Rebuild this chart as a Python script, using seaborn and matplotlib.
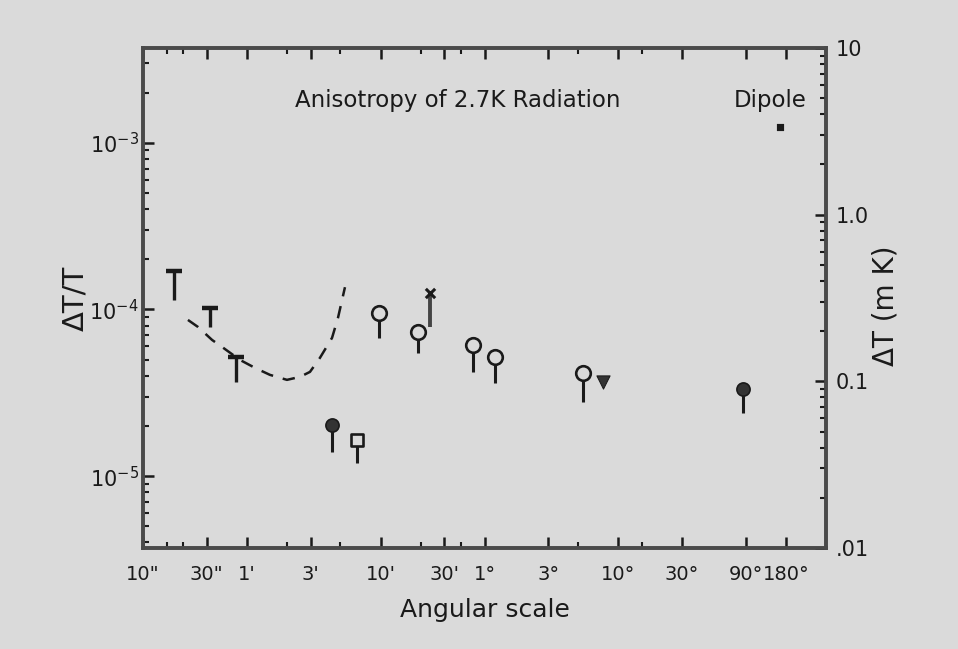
import numpy as np
import pandas as pd
import matplotlib
matplotlib.use("Agg")
import matplotlib.pyplot as plt
import seaborn as sns
from matplotlib.ticker import FixedLocator, NullFormatter

# ---------------- data (angular scale in arcsec, values in dT/T) ----------------
T_CMB_mK = 2700.0

tick_pos = [10, 30, 60, 180, 600, 1800, 3600, 10800, 36000, 108000, 324000, 648000]
tick_lab = ['10"', '30"', "1'", "3'", "10'", "30'", "1°", "3°", "10°", "30°", "90°", "180°"]
minor_pos = [15, 20, 120, 300, 1200, 2400, 18000, 54000]

# "T" upper-limit symbols
t_x = [17, 32, 50]
t_top = [1.70e-4, 1.02e-4, 5.2e-5]
t_low = [1.14e-4, 7.9e-5, 3.67e-5]

# open circles with stems
oc_x = [584, 1144, 2951, 4312, 19650]
oc_top = [9.5e-5, 7.3e-5, 6.1e-5, 5.2e-5, 4.16e-5]
oc_low = [6.75e-5, 5.5e-5, 4.2e-5, 3.6e-5, 2.8e-5]

# filled circles with stems
fc_x = [260, 309800]
fc_top = [2.03e-5, 3.33e-5]
fc_low = [1.40e-5, 2.39e-5]

# open square with stem
sq_x = [400]
sq_top = [1.65e-5]
sq_low = [1.20e-5]

# cross with stem
cx_x = [1406]
cx_top = [1.26e-4]
cx_low = [7.85e-5]

# filled triangle
tr_x = [27750]
tr_y = [3.67e-5]

# dipole
dp_x = [586000]
dp_y = [1.24e-3]

# dashed curve
cv_x = [21.7, 25.8, 32.9, 39.0, 53.2, 68.9, 89.2, 119.6, 149.7, 177.8, 211, 260, 288, 325]
cv_y = [8.65e-5, 7.85e-5, 6.56e-5, 5.96e-5, 4.98e-5, 4.46e-5, 4.05e-5, 3.78e-5,
        3.94e-5, 4.22e-5, 5.12e-5, 6.75e-5, 8.89e-5, 1.36e-4]

# ---------------- styling ----------------
sns.set_theme(style="ticks")
plt.rcParams["font.family"] = ["DejaVu Sans"]
BG = "#dadada"
INK = "#1a1a1a"

fig = plt.figure(figsize=(9.58, 6.49), dpi=100)
fig.patch.set_facecolor(BG)
ax = fig.add_axes([143/958, 1-548/649, (826-143)/958, 500/649])
ax.set_facecolor(BG)

ax.set_xscale("log")
ax.set_yscale("log")
ax.set_xlim(10, 1296000)
ax.set_ylim(0.01/T_CMB_mK, 10/T_CMB_mK)

# curve
sns.lineplot(x=cv_x, y=cv_y, ax=ax, color=INK, lw=1.8, linestyle=(0, (5, 4)),
             estimator=None, sort=False)

# stems
ax.vlines(t_x, t_low, t_top, color=INK, lw=2.4, zorder=2)
ax.vlines(oc_x, oc_low, oc_top, color=INK, lw=2.2, zorder=2)
ax.vlines(fc_x, fc_low, fc_top, color=INK, lw=2.2, zorder=2)
ax.vlines(sq_x, sq_low, sq_top, color=INK, lw=2.2, zorder=2)
ax.vlines(cx_x, cx_low, cx_top, color="#444444", lw=2.8, zorder=2)

# markers
sns.scatterplot(x=t_x, y=t_top, ax=ax, marker="_", s=120, color=INK, linewidth=3.2, zorder=3)
sns.scatterplot(x=oc_x, y=oc_top, ax=ax, marker="o", s=110, facecolor=BG,
                edgecolor=INK, linewidth=1.9, zorder=3)
sns.scatterplot(x=fc_x, y=fc_top, ax=ax, marker="o", s=90, color="#333333",
                edgecolor=INK, linewidth=1.2, zorder=3)
sns.scatterplot(x=sq_x, y=sq_top, ax=ax, marker="s", s=80, facecolor=BG,
                edgecolor=INK, linewidth=1.9, zorder=3)
sns.scatterplot(x=cx_x, y=cx_top, ax=ax, marker="x", s=45, color=INK, linewidth=2.2, zorder=3)
sns.scatterplot(x=tr_x, y=tr_y, ax=ax, marker="v", s=90, color="#333333",
                edgecolor=INK, zorder=3)
sns.scatterplot(x=dp_x, y=dp_y, ax=ax, marker="s", s=30, color=INK, zorder=3)

# x ticks
ax.xaxis.set_major_locator(FixedLocator(tick_pos))
ax.set_xticklabels(tick_lab)
ax.xaxis.set_minor_locator(FixedLocator(minor_pos))
ax.xaxis.set_minor_formatter(NullFormatter())

# left ticks
ax.set_yticks([1e-5, 1e-4, 1e-3])
ax.set_yticklabels([r"$10^{-5}$", r"$10^{-4}$", r"$10^{-3}$"])
ax.yaxis.set_minor_formatter(NullFormatter())

ax.tick_params(axis="both", which="major", direction="in", length=8, width=1.8,
               color=INK, labelcolor=INK, top=True)
ax.tick_params(axis="both", which="minor", direction="in", length=4.5, width=1.5,
               color=INK, top=True)
ax.tick_params(axis="x", which="major", pad=12, labelsize=14)
ax.tick_params(axis="y", which="major", pad=3, labelsize=15)

# right axis (mK)
ax2 = ax.twinx()
ax2.set_yscale("log")
ax2.set_ylim(0.01, 10)
ax2.set_yticks([0.01, 0.1, 1, 10])
ax2.set_yticklabels([".01", "0.1", "1.0", "10"])
ax2.yaxis.set_minor_formatter(NullFormatter())
ax2.tick_params(axis="y", which="major", direction="in", length=8, width=1.8,
                color=INK, labelsize=15, labelcolor=INK, pad=7)
ax2.tick_params(axis="y", which="minor", direction="in", length=4.5, width=1.5, color=INK)

for a in (ax, ax2):
    for side, sp in a.spines.items():
        sp.set_linewidth(2.6)
        sp.set_color("#4a4a4a")
        sp.set_visible(True)

ax.set_xlabel("Angular scale", fontsize=18, color=INK)
ax.xaxis.set_label_coords(0.50, -0.10)
ax.set_ylabel("ΔT/T", fontsize=21, color=INK)
ax.yaxis.set_label_coords(-0.078, 0.5)
ax2.set_ylabel("ΔT (m K)", fontsize=20, color=INK)
ax2.yaxis.set_label_coords(1.067, 0.484)

ax.text(0.2225, 0.896, "Anisotropy of 2.7K Radiation", transform=ax.transAxes,
        fontsize=16.5, color=INK, va="center", ha="left")
ax.text(0.865, 0.896, "Dipole", transform=ax.transAxes,
        fontsize=16.5, color=INK, va="center", ha="left")

fig.savefig("out.png", dpi=100, facecolor=BG)
